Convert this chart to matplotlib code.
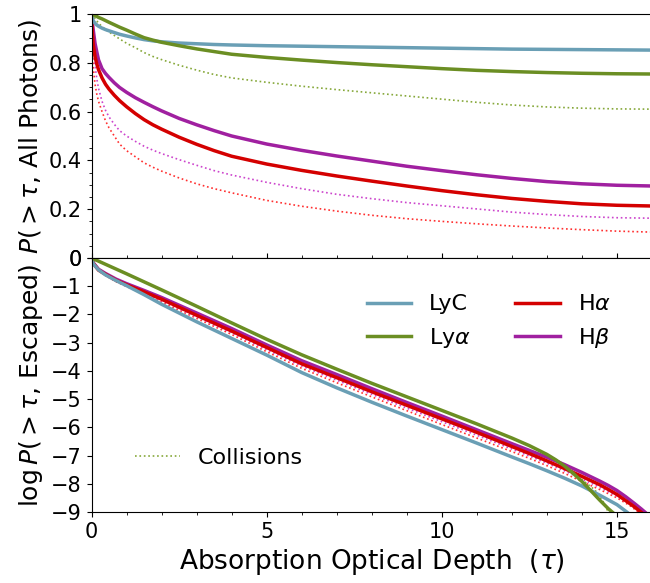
import matplotlib
matplotlib.use("Agg")
import matplotlib.pyplot as plt
from matplotlib.ticker import MultipleLocator, FixedLocator, FixedFormatter

# colours
C_LYC = "#6a9fb5"
C_LYA = "#6b8e23"
C_HA = "#d40000"
C_HB = "#a020a0"
C_HA_COL = "#ff3030"
C_HB_COL = "#cc44cc"
C_LYA_COL = "#86a83a"

# ---- top panel: P(>tau, all photons) ----
tau_top = [0, 0.02, 0.05, 0.1, 0.15, 0.2, 0.3, 0.4, 0.5, 0.65, 0.8, 1.0, 1.25, 1.5, 1.75,
           2.0, 2.5, 3.0, 3.5, 4.0, 5.0, 6.0, 7.0, 8.0, 9.0, 10, 11, 12, 13, 14, 15, 16]
p_lyc_all = [1.0, 0.985, 0.972, 0.962, 0.955, 0.95, 0.942, 0.936, 0.931, 0.924, 0.917, 0.91,
             0.902, 0.895, 0.89, 0.886, 0.881, 0.878, 0.875, 0.873, 0.87, 0.868, 0.866, 0.864,
             0.862, 0.86, 0.858, 0.856, 0.855, 0.854, 0.853, 0.852]
p_lya_all = [1.0, 0.999, 0.997, 0.993, 0.99, 0.986, 0.98, 0.973, 0.966, 0.956, 0.946, 0.934,
             0.918, 0.903, 0.893, 0.884, 0.87, 0.857, 0.846, 0.835, 0.822, 0.811, 0.801, 0.792,
             0.784, 0.776, 0.769, 0.764, 0.76, 0.757, 0.755, 0.754]
p_lya_col = [1.0, 0.995, 0.99, 0.982, 0.972, 0.963, 0.948, 0.937, 0.926, 0.912, 0.898, 0.88,
             0.862, 0.842, 0.826, 0.813, 0.79, 0.77, 0.752, 0.738, 0.72, 0.704, 0.69, 0.677,
             0.664, 0.651, 0.638, 0.627, 0.619, 0.614, 0.611, 0.61]
p_hb_all = [1.0, 0.97, 0.934, 0.88, 0.845, 0.812, 0.776, 0.756, 0.74, 0.718, 0.699, 0.679,
            0.657, 0.638, 0.62, 0.603, 0.572, 0.546, 0.522, 0.5, 0.467, 0.441, 0.418, 0.397,
            0.376, 0.358, 0.341, 0.326, 0.313, 0.304, 0.298, 0.295]
p_ha_all = [1.0, 0.93, 0.875, 0.825, 0.795, 0.772, 0.738, 0.712, 0.692, 0.667, 0.645, 0.62,
            0.592, 0.567, 0.546, 0.528, 0.495, 0.466, 0.44, 0.417, 0.385, 0.359, 0.336, 0.315,
            0.295, 0.276, 0.259, 0.244, 0.232, 0.222, 0.216, 0.213]
p_hb_col = [1.0, 0.92, 0.86, 0.79, 0.735, 0.695, 0.642, 0.605, 0.578, 0.548, 0.522, 0.5,
            0.478, 0.458, 0.442, 0.428, 0.403, 0.38, 0.358, 0.34, 0.31, 0.284, 0.261, 0.243,
            0.227, 0.214, 0.201, 0.188, 0.178, 0.17, 0.165, 0.163]
p_ha_col = [1.0, 0.86, 0.78, 0.712, 0.672, 0.642, 0.6, 0.562, 0.533, 0.5, 0.467, 0.44,
            0.415, 0.39, 0.372, 0.356, 0.328, 0.304, 0.284, 0.267, 0.236, 0.212, 0.192, 0.175,
            0.161, 0.15, 0.14, 0.131, 0.123, 0.116, 0.11, 0.106]

# ---- bottom panel: log P(>tau, escaped) ----
tau_lyc_esc = [0, 0.05, 0.1, 0.2, 0.4, 0.7, 1, 1.5, 2, 3, 4, 5, 6, 7, 8, 9, 10, 11, 12,
               12.5, 13, 13.5, 14, 14.5, 15, 15.3, 15.4]
lp_lyc_esc = [0, -0.2, -0.28, -0.42, -0.6, -0.8, -0.98, -1.3, -1.64, -2.26, -2.85, -3.44,
              -4.06, -4.6, -5.11, -5.6, -6.08, -6.56, -7.05, -7.29, -7.54, -7.8, -8.08, -8.4,
              -8.74, -9.02, -9.15]

tau_lya_esc = [0, 1, 2, 3, 4, 5, 6, 7, 8, 9, 10, 11, 12, 12.5, 13, 13.25, 13.5, 13.75, 14,
               14.25, 14.5, 14.75, 14.9, 15.0]
lp_lya_esc = [0, -0.56, -1.13, -1.71, -2.3, -2.88, -3.43, -3.94, -4.44, -4.92, -5.4, -5.88,
              -6.38, -6.65, -6.96, -7.15, -7.37, -7.63, -7.92, -8.24, -8.57, -8.88, -9.04, -9.15]

tau_lya_esc_col = [0, 1, 2, 3, 4, 5, 6, 7, 8, 9, 10, 11, 12, 12.5, 13, 13.5, 14, 14.37,
                   14.6, 14.75, 14.8]
lp_lya_esc_col = [0, -0.56, -1.13, -1.71, -2.3, -2.88, -3.43, -3.94, -4.44, -4.92, -5.4,
                  -5.88, -6.38, -6.65, -6.95, -7.34, -7.85, -8.22, -8.62, -9.0, -9.1]

tau_hb_esc = [0, 0.05, 0.1, 0.2, 0.4, 0.7, 1, 1.5, 2, 3, 4, 5, 6, 7, 8, 9, 10, 11, 12,
              12.5, 13, 13.5, 14, 14.5, 14.75, 15, 15.25, 15.5, 15.7, 15.85]
lp_hb_esc = [0, -0.17, -0.25, -0.4, -0.55, -0.75, -0.91, -1.15, -1.4, -1.95, -2.5, -3.08,
             -3.64, -4.13, -4.63, -5.12, -5.6, -6.09, -6.58, -6.82, -7.06, -7.32, -7.6, -7.9,
             -8.06, -8.24, -8.46, -8.7, -8.9, -9.06]

tau_ha_esc = [0, 0.05, 0.1, 0.2, 0.4, 0.7, 1, 1.5, 2, 3, 4, 5, 6, 7, 8, 9, 10, 11, 12,
              12.5, 13, 13.5, 14, 14.5, 14.75, 15, 15.25, 15.5, 15.7, 15.8]
lp_ha_esc = [0, -0.19, -0.27, -0.43, -0.58, -0.79, -0.95, -1.2, -1.46, -2.03, -2.59, -3.17,
             -3.75, -4.24, -4.74, -5.22, -5.7, -6.18, -6.68, -6.93, -7.19, -7.46, -7.74, -8.03,
             -8.2, -8.38, -8.6, -8.82, -9.02, -9.12]

tau_hb_esc_col = [0, 0.05, 0.1, 0.2, 0.4, 0.7, 1, 1.5, 2, 3, 4, 5, 6, 7, 8, 9, 10, 11, 12,
                  12.5, 13, 13.5, 14, 14.5, 15, 15.4, 15.65, 15.75]
lp_hb_esc_col = [0, -0.19, -0.28, -0.44, -0.6, -0.81, -0.98, -1.24, -1.51, -2.09, -2.65,
                 -3.25, -3.83, -4.33, -4.83, -5.32, -5.8, -6.28, -6.77, -7.02, -7.27, -7.54,
                 -7.83, -8.12, -8.44, -8.75, -9.0, -9.1]

tau_ha_esc_col = [0, 0.05, 0.1, 0.2, 0.4, 0.7, 1, 1.5, 2, 3, 4, 5, 6, 7, 8, 9, 10, 11, 12,
                  12.5, 13, 13.5, 14, 14.5, 15, 15.4, 15.6, 15.7]
lp_ha_esc_col = [0, -0.2, -0.29, -0.45, -0.62, -0.84, -1.01, -1.28, -1.56, -2.14, -2.71,
                 -3.32, -3.91, -4.42, -4.92, -5.41, -5.9, -6.38, -6.86, -7.1, -7.36, -7.63,
                 -7.92, -8.2, -8.5, -8.8, -9.0, -9.1]

top_ticks = [0, 0.2, 0.4, 0.6, 0.8, 1]
top_ticklabels = ["0", "0.2", "0.4", "0.6", "0.8", "1"]
bot_ticks = [0, -1, -2, -3, -4, -5, -6, -7, -8, -9]
bot_ticklabels = ["0", "\u22121", "\u22122", "\u22123", "\u22124", "\u22125",
                  "\u22126", "\u22127", "\u22128", "\u22129"]
x_ticks = [0, 5, 10, 15]

plt.rcParams["font.family"] = "DejaVu Sans"
plt.rcParams["mathtext.fontset"] = "dejavusans"

fig = plt.figure(figsize=(6.5, 5.83), dpi=100)
ax1 = fig.add_axes([0.1408, 0.5575, 0.8623, 0.4185])
ax2 = fig.add_axes([0.1408, 0.1218, 0.8623, 0.4357])

LW = 2.5
LWD = 1.2

# top
ax1.plot(tau_top, p_ha_col, ":", color=C_HA_COL, lw=LWD)
ax1.plot(tau_top, p_hb_col, ":", color=C_HB_COL, lw=LWD)
ax1.plot(tau_top, p_lya_col, ":", color=C_LYA_COL, lw=LWD)
ax1.plot(tau_top, p_hb_all, "-", color=C_HB, lw=LW)
ax1.plot(tau_top, p_ha_all, "-", color=C_HA, lw=LW)
ax1.plot(tau_top, p_lyc_all, "-", color=C_LYC, lw=LW)
ax1.plot(tau_top, p_lya_all, "-", color=C_LYA, lw=LW)

# bottom
ax2.plot(tau_ha_esc_col, lp_ha_esc_col, ":", color=C_HA_COL, lw=LWD)
ax2.plot(tau_hb_esc_col, lp_hb_esc_col, ":", color=C_HB_COL, lw=LWD)
ax2.plot(tau_lya_esc_col, lp_lya_esc_col, ":", color=C_LYA_COL, lw=LWD)
l_hb, = ax2.plot(tau_hb_esc, lp_hb_esc, "-", color=C_HB, lw=LW, label=r"H$\beta$")
l_ha, = ax2.plot(tau_ha_esc, lp_ha_esc, "-", color=C_HA, lw=LW, label=r"H$\alpha$")
l_lyc, = ax2.plot(tau_lyc_esc, lp_lyc_esc, "-", color=C_LYC, lw=LW, label="LyC")
l_lya, = ax2.plot(tau_lya_esc, lp_lya_esc, "-", color=C_LYA, lw=LW, label=r"Ly$\alpha$")

for ax in (ax1, ax2):
    ax.set_xlim(0, 16)
    ax.xaxis.set_major_locator(FixedLocator(x_ticks))
    ax.xaxis.set_minor_locator(MultipleLocator(1))
    ax.tick_params(which="both", direction="out", labelsize=15, right=False)
    ax.spines["right"].set_visible(False)

ax1.set_ylim(0, 1)
ax1.yaxis.set_major_locator(FixedLocator(top_ticks))
ax1.yaxis.set_major_formatter(FixedFormatter(top_ticklabels))
ax1.yaxis.set_minor_locator(MultipleLocator(0.05))
ax1.tick_params(which="both", top=False, bottom=True, labelbottom=False)
ax1.set_ylabel(r"$P(>\tau$, All Photons)", fontsize=18)

ax2.set_ylim(-9, 0)
ax2.yaxis.set_major_locator(FixedLocator(bot_ticks))
ax2.yaxis.set_major_formatter(FixedFormatter(bot_ticklabels))
ax2.tick_params(which="both", top=True, bottom=True)
ax2.set_ylabel(r"$\log P(>\tau$, Escaped)", fontsize=18)
ax2.set_xlabel(r"Absorption Optical Depth  $(\tau)$", fontsize=19)
ax2.xaxis.set_major_formatter(FixedFormatter([str(t) for t in x_ticks]))

leg1 = ax2.legend(handles=[l_lyc, l_lya, l_ha, l_hb], ncol=2, frameon=False,
                  fontsize=16, loc="upper right", bbox_to_anchor=(0.962, 0.935))
ax2.add_artist(leg1)
col_line, = ax2.plot([], [], ":", color=C_LYA_COL, lw=LWD, label="Collisions")
ax2.legend(handles=[col_line], frameon=False, fontsize=16, loc="center left",
           bbox_to_anchor=(0.042, 0.213))

fig.align_ylabels([ax1, ax2])
fig.savefig("out.png", dpi=100)
